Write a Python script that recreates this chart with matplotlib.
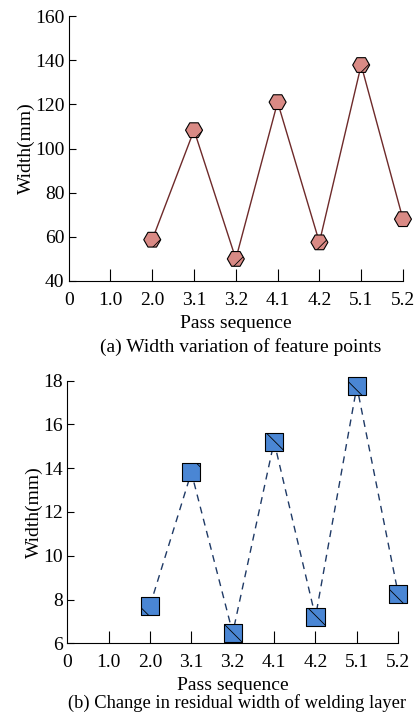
import matplotlib.pyplot as plt

plt.rcParams['font.family'] = ['Liberation Serif', 'DejaVu Serif']
plt.rcParams['hatch.linewidth'] = 0.6

# datos
etiquetas = ['0', '1.0', '2.0', '3.1', '3.2', '4.1', '4.2', '5.1', '5.2']
pasadas = [2, 3, 4, 5, 6, 7, 8]   # posicion de cada pasada en el eje x
ancho_puntos = [58.7, 108.3, 50.0, 121.0, 57.5, 137.8, 68.0]
ancho_residual = [7.72, 13.81, 6.47, 15.21, 7.20, 17.74, 8.26]

pos_ticks = list(range(len(etiquetas)))
fs = 14

fig = plt.figure(figsize=(4.15, 7.15), dpi=100)
ax1 = fig.add_axes([0.1655, 0.607, 0.8055, 0.3706])
ax2 = fig.add_axes([0.162, 0.1003, 0.7976, 0.3673])


def estilo(ax, ylim, yticks):
    ax.set_xlim(0, 8)
    ax.set_ylim(*ylim)
    ax.set_yticks(yticks)
    ax.set_xticks(pos_ticks)
    ax.set_xticklabels(etiquetas)
    ax.tick_params(axis='y', direction='in', length=5, labelsize=fs, pad=3)
    ax.tick_params(axis='x', direction='in', length=9, labelsize=fs, pad=8)
    ax.xaxis.get_major_ticks()[0].tick1line.set_visible(False)
    ax.spines['top'].set_visible(False)
    ax.spines['right'].set_visible(False)
    ax.set_xlabel('Pass sequence', fontsize=fs, labelpad=4)
    ax.set_ylabel('Width(mm)', fontsize=fs, labelpad=0)


# grafico (a)
ax1.plot(pasadas, ancho_puntos, color='#6e2a2a', lw=1, zorder=2, clip_on=False)
ax1.scatter(pasadas, ancho_puntos, marker='H', s=150, facecolor='#d98a85',
            edgecolor='black', linewidth=0.8, hatch='/', zorder=3, clip_on=False)
estilo(ax1, (40, 160), range(40, 161, 20))

# grafico (b)
ax2.plot(pasadas, ancho_residual, color='#1f3a66', lw=1, ls=(0, (5, 4)), zorder=2, clip_on=False)
ax2.scatter(pasadas, ancho_residual, marker='s', s=170, facecolor='#4a86d4',
            edgecolor='black', linewidth=0.8, hatch='\\', zorder=3, clip_on=False)
estilo(ax2, (6, 18), range(6, 19, 2))

fig.text(0.58, 1 - 347 / 715, '(a) Width variation of feature points',
         ha='center', va='center', fontsize=fs)
fig.text(0.572, 1 - 703 / 715, '(b) Change in residual width of welding layer',
         ha='center', va='center', fontsize=13.3)

fig.savefig('out.png', dpi=100)
